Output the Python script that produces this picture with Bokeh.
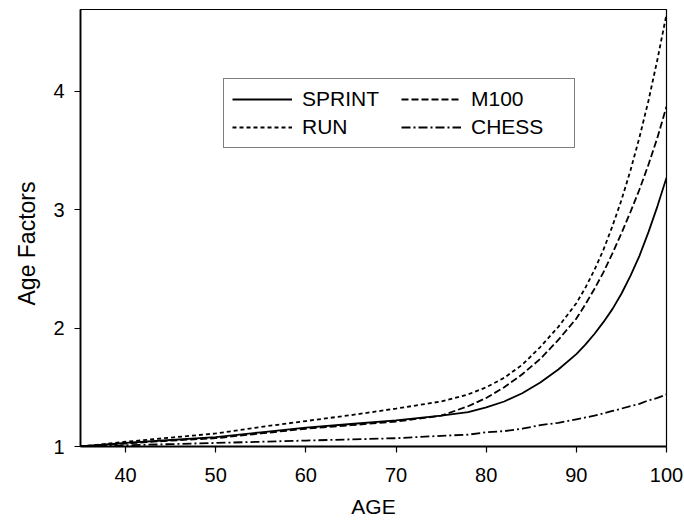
from bokeh.plotting import figure
from bokeh.models import Range1d, Legend, LegendItem, FixedTicker, Title
from bokeh.embed import file_html
from bokeh.resources import INLINE

ages = [35, 40, 45, 50, 55, 60, 65, 70, 75, 78, 80, 82, 84, 86, 88,
        90, 91, 92, 93, 94, 95, 96, 97, 98, 99, 100]

sprint = [1.00, 1.03, 1.055, 1.08, 1.12, 1.16, 1.19, 1.22, 1.26, 1.29, 1.33, 1.38, 1.45, 1.54, 1.65,
          1.78, 1.86, 1.95, 2.05, 2.16, 2.29, 2.44, 2.61, 2.81, 3.03, 3.27]
m100 = [1.00, 1.025, 1.05, 1.07, 1.11, 1.15, 1.18, 1.21, 1.26, 1.34, 1.41, 1.50, 1.61, 1.74, 1.90,
        2.08, 2.20, 2.33, 2.47, 2.63, 2.80, 2.98, 3.17, 3.38, 3.61, 3.87]
run = [1.00, 1.04, 1.075, 1.11, 1.165, 1.215, 1.265, 1.32, 1.38, 1.44, 1.50, 1.58, 1.69, 1.84, 2.01,
       2.21, 2.34, 2.49, 2.66, 2.86, 3.08, 3.33, 3.61, 3.92, 4.27, 4.65]
chess = [1.00, 1.01, 1.02, 1.03, 1.04, 1.05, 1.06, 1.07, 1.09, 1.10, 1.12, 1.13, 1.15, 1.18, 1.20,
         1.23, 1.245, 1.26, 1.28, 1.30, 1.32, 1.34, 1.36, 1.39, 1.41, 1.44]

x_ticks = [40, 50, 60, 70, 80, 90, 100]
y_ticks = [1, 2, 3, 4]

FONT = "Liberation Sans"

p = figure(width=684, height=524, output_backend="svg", toolbar_location=None,
           x_range=Range1d(35, 100), y_range=Range1d(1, 4.69),
           min_border_left=80, min_border_right=18, min_border_top=9, min_border_bottom=78)

p.background_fill_color = "white"
p.border_fill_color = "white"
p.outline_line_color = "black"
p.outline_line_width = 1.2
p.xgrid.visible = False
p.ygrid.visible = False

for ax in (p.xaxis[0], p.yaxis[0]):
    ax.axis_line_color = "black"
    ax.axis_line_width = 1.8
    ax.major_tick_line_color = "black"
    ax.major_tick_line_width = 1.2
    ax.major_tick_in = 0
    ax.major_tick_out = 6
    ax.minor_tick_line_color = None
    ax.major_label_text_font = FONT
    ax.major_label_text_font_size = "20px"
    ax.major_label_text_color = "black"

p.xaxis.ticker = FixedTicker(ticks=x_ticks)
p.yaxis.ticker = FixedTicker(ticks=y_ticks)
p.xaxis.major_label_standoff = 15
p.yaxis.major_label_standoff = 10

p.xaxis.axis_label = "AGE"
p.xaxis.axis_label_text_font = FONT
p.xaxis.axis_label_text_font_size = "21px"
p.xaxis.axis_label_text_font_style = "normal"
p.xaxis.axis_label_text_color = "black"
p.xaxis.axis_label_standoff = 10

ytitle = Title(text="Age Factors", align="left", offset=141, standoff=21,
               text_font=FONT, text_font_size="23px", text_font_style="normal",
               text_color="black")
p.add_layout(ytitle, "left")

r_sprint = p.line(ages, sprint, line_color="black", line_width=1.8)
r_run = p.line(ages, run, line_color="black", line_width=1.8, line_dash="4 3")
r_m100 = p.line(ages, m100, line_color="black", line_width=1.8, line_dash="7 3")
r_chess = p.line(ages, chess, line_color="black", line_width=1.8, line_dash="9 3 2 3")

legend = Legend(items=[
    LegendItem(label="SPRINT", renderers=[r_sprint]),
    LegendItem(label="RUN", renderers=[r_run]),
    LegendItem(label="M100", renderers=[r_m100]),
    LegendItem(label="CHESS", renderers=[r_chess]),
], orientation="vertical", ncols=2, location=(143, 298))
legend.label_text_font = FONT
legend.label_text_font_size = "21px"
legend.label_text_color = "black"
legend.glyph_width = 60
legend.glyph_height = 20
legend.label_height = 20
legend.label_width = 95
legend.label_standoff = 10
legend.padding = 8
legend.spacing = 4
legend.margin = 0
legend.border_line_color = "black"
legend.border_line_width = 1
legend.background_fill_color = "white"
legend.background_fill_alpha = 1
p.add_layout(legend, "center")

open("out.html", "w").write(file_html(p, INLINE))
